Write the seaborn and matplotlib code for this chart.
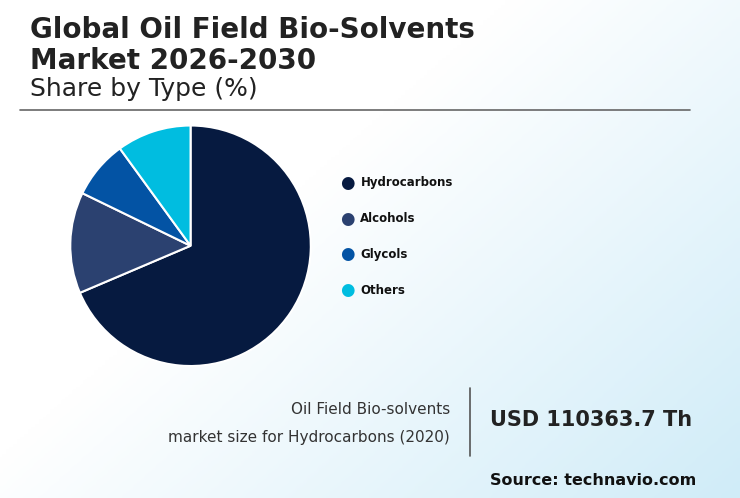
import matplotlib
matplotlib.use("Agg")
import matplotlib.pyplot as plt
import numpy as np
import seaborn as sns
from matplotlib.colors import LinearSegmentedColormap

sns.set_theme(style="white")
plt.rcParams["font.family"] = ["DejaVu Sans"]

# data
types = ["Hydrocarbons", "Alcohols", "Glycols", "Others"]
shares = [68.6, 13.6, 7.8, 10.0]
colors = ["#061a40", "#2b4170", "#0353a4", "#00bde0"]

fig = plt.figure(figsize=(7.4, 4.98), dpi=100)

# background gradient (white top-left -> light blue bottom-right)
bg = fig.add_axes([0, 0, 1, 1], zorder=-10)
xx, yy = np.meshgrid(np.linspace(0, 1, 200), np.linspace(0, 1, 200))
grad = np.clip((xx * 0.8 + (1 - yy) * 0.6) - 0.55, 0, 1) / 0.85
cmap = LinearSegmentedColormap.from_list("bg", ["#ffffff", "#d0ecf8"])
bg.imshow(grad, cmap=cmap, extent=[0, 1, 0, 1], aspect="auto", origin="lower", vmin=0, vmax=1)
bg.axis("off")

# title
fig.text(0.04, 0.94, "Global Oil Field Bio-Solvents", fontsize=20, fontweight="bold", color="#222222", va="center")
fig.text(0.04, 0.878, "Market 2026-2030", fontsize=20, fontweight="bold", color="#222222", va="center")
fig.text(0.04, 0.822, "Share by Type (%)", fontsize=18, color="#222222", va="center")
fig.add_artist(plt.Line2D([0.027, 0.932], [0.779, 0.779], color="#666666", lw=1.2))

# pie
ax = fig.add_axes([0.095, 0.265, 0.325, 0.483])
ax.pie(shares, colors=colors, startangle=90, counterclock=False,
       wedgeprops=dict(edgecolor="white", linewidth=1.5))
ax.set_xlim(-1.0, 1.0)
ax.set_ylim(-1.0, 1.0)
ax.set_aspect("equal")

# legend
for i, (t, c) in enumerate(zip(types, colors)):
    y = 0.633 - i * 0.072
    fig.text(0.47, y, "\u25CF", color=c, fontsize=12, va="center", ha="center")
    fig.text(0.487, y, t, fontsize=8.5, fontweight="bold", color="#111111", va="center")

# bottom info
fig.text(0.608, 0.178, "Oil Field Bio-solvents", fontsize=11, color="#333333", ha="right", va="center")
fig.text(0.608, 0.122, "market size for Hydrocarbons (2020)", fontsize=11, color="#333333", ha="right", va="center")
fig.add_artist(plt.Line2D([0.635, 0.635], [0.085, 0.22], color="#555555", lw=1.2))
fig.text(0.662, 0.157, "USD 110363.7 Th", fontsize=15, fontweight="bold", color="#222222", va="center")
fig.text(0.662, 0.036, "Source: technavio.com", fontsize=11.5, fontweight="bold", color="#111111", va="center")

fig.savefig("out.png", dpi=100)
